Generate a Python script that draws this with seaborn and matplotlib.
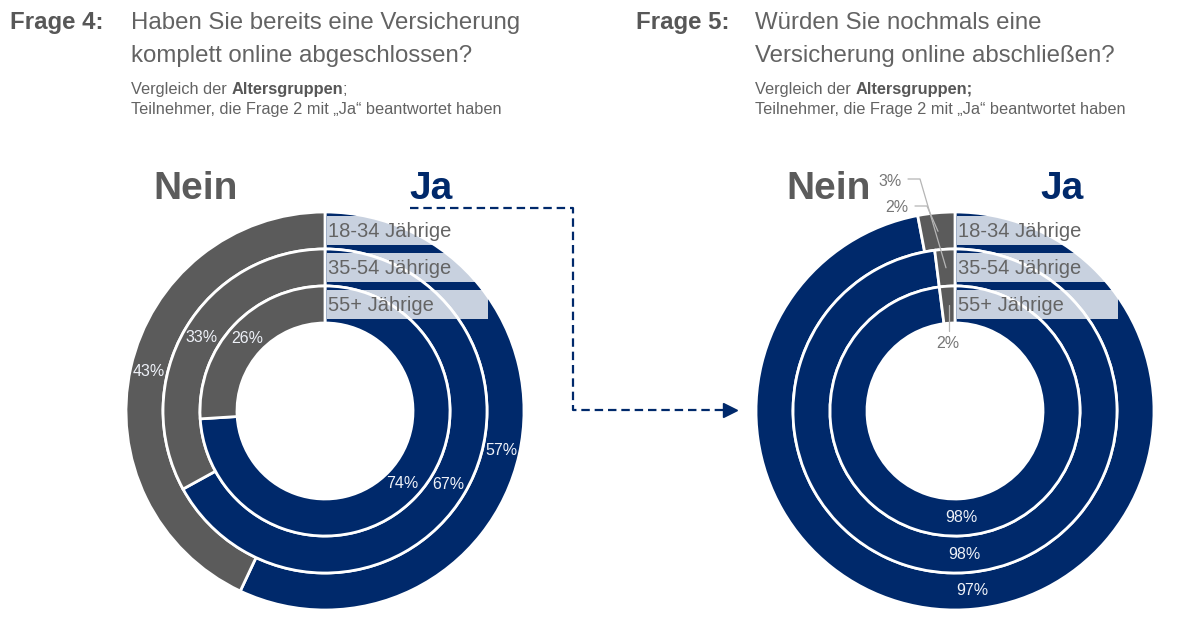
import numpy as np
import matplotlib
matplotlib.use("Agg")
import matplotlib.pyplot as plt
import seaborn as sns
from matplotlib.patches import Rectangle

# data
age_groups = ["18-34 Jährige", "35-54 Jährige", "55+ Jährige"]
q4_ja = [57, 67, 74]
q4_nein = [43, 33, 26]
q5_ja = [97, 98, 98]
q5_nein = [3, 2, 2]

NAVY = "#00296b"
GREY = "#5b5b5b"
TEXT = "#575757"
THIN = "#636363"
FONT = "Liberation Sans"

sns.set_theme(style="white")
plt.rcParams["font.family"] = [FONT, "DejaVu Sans"]

W, H = 1200, 628
fig = plt.figure(figsize=(12, 6.28), dpi=100)

R = 200                       # pixels per unit radius in the donut axes
radii = [0.995, 0.81, 0.625]  # outer -> inner ring
ring_w = 0.185


def donut(cx, cy, ja, nein, hide_small=False):
    ax = fig.add_axes([(cx - R) / W, (H - cy - R) / H, 2 * R / W, 2 * R / H])
    for r, j, n in zip(radii, ja, nein):
        ax.pie([j, n], radius=r, startangle=90, counterclock=False,
               colors=[NAVY, GREY],
               wedgeprops=dict(width=ring_w, edgecolor="white", linewidth=2),
               autopct=lambda p: "" if (hide_small and p < 5) else f"{p:.0f}%",
               pctdistance=(r - ring_w / 2) / r,
               textprops=dict(color="#eef1f8", fontsize=11.5))
    ax.set_xlim(-1, 1)
    ax.set_ylim(-1, 1)
    ax.set_aspect("equal")
    ax.axis("off")
    return ax


centers = [(325, 411), (955, 411)]
donut(*centers[0], q4_ja, q4_nein)
donut(*centers[1], q5_ja, q5_nein, hide_small=True)

# overlay in pixel coordinates for texts and annotations
ov = fig.add_axes([0, 0, 1, 1], facecolor="none")
ov.set_xlim(0, W)
ov.set_ylim(H, 0)
ov.axis("off")


def header(x0, x1, frage, line1, line2, semi_bold):
    ov.text(x0, 29, frage, fontsize=17.3, weight="bold", color=TEXT, va="baseline")
    ov.text(x1, 29, line1, fontsize=17.3, color=THIN, va="baseline")
    ov.text(x1, 62, line2, fontsize=17.3, color=THIN, va="baseline")
    t1 = ov.text(x1, 94, "Vergleich der ", fontsize=11.8, color=THIN, va="baseline")
    bold_part = "Altersgruppen;" if semi_bold else "Altersgruppen"
    t2 = ov.annotate(bold_part, xy=(1, 0), xycoords=t1, fontsize=11.8,
                     weight="bold", color=TEXT, va="bottom")
    if not semi_bold:
        ov.annotate(";", xy=(1, 0), xycoords=t2, fontsize=11.8,
                    color=THIN, va="bottom")
    ov.text(x1, 114, "Teilnehmer, die Frage 2 mit \u201eJa\u201c beantwortet haben",
            fontsize=11.8, color=THIN, va="baseline")


header(10, 131, "Frage 4:", "Haben Sie bereits eine Versicherung",
       "komplett online abgeschlossen?", False)
header(636, 755, "Frage 5:", "Würden Sie nochmals eine",
       "Versicherung online abschließen?", True)

# Nein / Ja headings
for (cx, cy), nx, jx in zip(centers, [196, 829], [431, 1062]):
    ov.text(nx, 199, "Nein", fontsize=28, weight="bold", color=GREY,
            ha="center", va="baseline")
    ov.text(jx, 199, "Ja", fontsize=28, weight="bold", color=NAVY,
            ha="center", va="baseline")
    # age group label boxes on the rings
    for r, lab in zip(radii, age_groups):
        yc = cy - (r - ring_w / 2) * R
        ov.add_patch(Rectangle((cx + 2, yc - 14.5), 161, 29, facecolor="white",
                               alpha=0.79, edgecolor="none"))
        ov.text(cx + 3, yc + 1, lab, fontsize=14.5, color="#646464",
                ha="left", va="center")

# external labels for the small Nein slices of Frage 5
cx, cy = centers[1]
anchors = []
for r, n in zip(radii, q5_nein):
    ang = np.deg2rad(90 + 3.6 * n / 2)
    rm = (r - ring_w / 2) * R
    anchors.append((cx + rm * np.cos(ang), cy - rm * np.sin(ang)))

lab_pos = [(890, 181), (897, 208), (948, 344)]
line_to = [1, 0, 2]
for (tx, ty), n, k in zip(lab_pos, q5_nein, line_to):
    ov.text(tx, ty, f"{n}%", fontsize=11.5, color="#777777",
            ha="center", va="center")
    ax_, ay_ = anchors[k]
    if k == 2:
        ov.plot([ax_ + 1, ax_ + 1], [ay_, ty - 13], color="#b5b5b5", lw=0.9)
    else:
        ov.plot([tx + 18, tx + 30, ax_], [ty - 2, ty - 2, ay_], color="#b5b5b5", lw=0.9)

# dashed connector arrow
ov.plot([410, 573, 573, 724], [208, 208, 410, 410], color=NAVY, lw=1.6,
        ls=(0, (3.8, 2.2)))
ov.plot([730], [410], marker=">", markersize=10, color=NAVY)

fig.savefig("out.png", dpi=100, facecolor="white")
